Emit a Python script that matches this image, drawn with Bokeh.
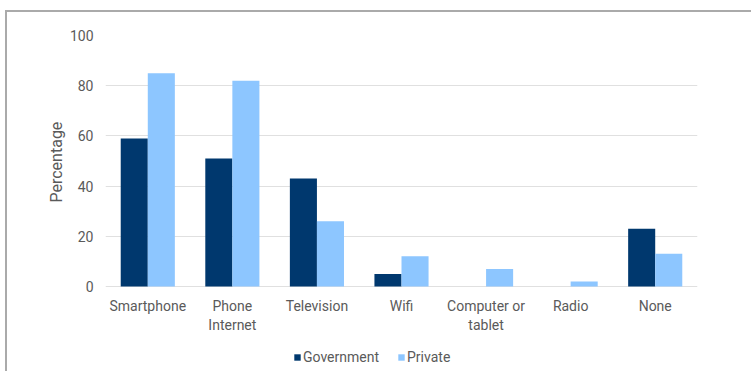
from bokeh.plotting import figure
from bokeh.models import ColumnDataSource, FactorRange, Legend, LegendItem, Range1d, Title
from bokeh.transform import dodge
from bokeh.core.properties import value
from bokeh.embed import file_html
from bokeh.resources import INLINE

categories = ["Smartphone", "Phone\nInternet", "Television", "Wifi", "Computer or\ntablet", "Radio", "None"]
government = [59, 51, 43, 5, 0, 0, 23]
private = [85, 82, 26, 12, 7, 2, 13]
y_ticks = [0, 20, 40, 60, 80, 100]

src = ColumnDataSource(dict(cat=categories, gov=government, priv=private, base=[0] * len(categories)))

p = figure(width=746, height=361, output_backend="svg", toolbar_location=None,
           x_range=FactorRange(*categories, range_padding=0), y_range=Range1d(-33.47, 100),
           min_border_left=98, min_border_right=56, min_border_top=23, min_border_bottom=3)
p.styles = {"border-top": "2px solid #aaaaaa", "border-left": "2px solid #aaaaaa",
            "margin-left": "5px", "margin-top": "10px"}
p.outline_line_color = None

r1 = p.vbar(x=dodge("cat", -0.16, range=p.x_range), top="gov", width=0.32, source=src,
            fill_color="#00386e", line_color=None)
r2 = p.vbar(x=dodge("cat", 0.16, range=p.x_range), top="priv", width=0.32, source=src,
            fill_color="#8dc6ff", line_color=None)

font = "Roboto"
lab = "#5a5a5a"

# category labels under the baseline
p.text(x="cat", y="base", text="cat", source=src, text_align="center", text_baseline="top",
       y_offset=12, text_font=value(font), text_font_size="14px", text_color=lab,
       text_line_height=1.15)

p.xaxis.visible = False
p.yaxis.ticker = y_ticks
p.yaxis.axis_line_color = None
p.yaxis.major_tick_line_color = None
p.yaxis.minor_tick_line_color = None
p.yaxis.major_tick_out = 0
p.yaxis.major_tick_in = 0
p.yaxis.major_label_standoff = 12
p.yaxis.major_label_text_font = font
p.yaxis.major_label_text_font_size = "14px"
p.yaxis.major_label_text_color = lab

p.add_layout(Title(text="Percentage", align="left", offset=168, vertical_align="middle",
                   text_font=font, text_font_size="16px", text_font_style="normal",
                   text_color=lab, standoff=0), "left")

p.xgrid.grid_line_color = None
p.ygrid.grid_line_color = "#e0e0e0"
p.ygrid.grid_line_width = 1

legend = Legend(items=[LegendItem(label="Government", renderers=[r1]),
                       LegendItem(label="Private", renderers=[r2])],
                orientation="horizontal", location=(188, 5),
                label_text_font=font, label_text_font_size="14px", label_text_color=lab,
                glyph_width=8, glyph_height=8, label_standoff=2, spacing=18, label_height=16,
                border_line_color=None, background_fill_alpha=0, padding=0, margin=0)
p.add_layout(legend, "center")

open("out.html", "w").write(file_html(p, INLINE))
